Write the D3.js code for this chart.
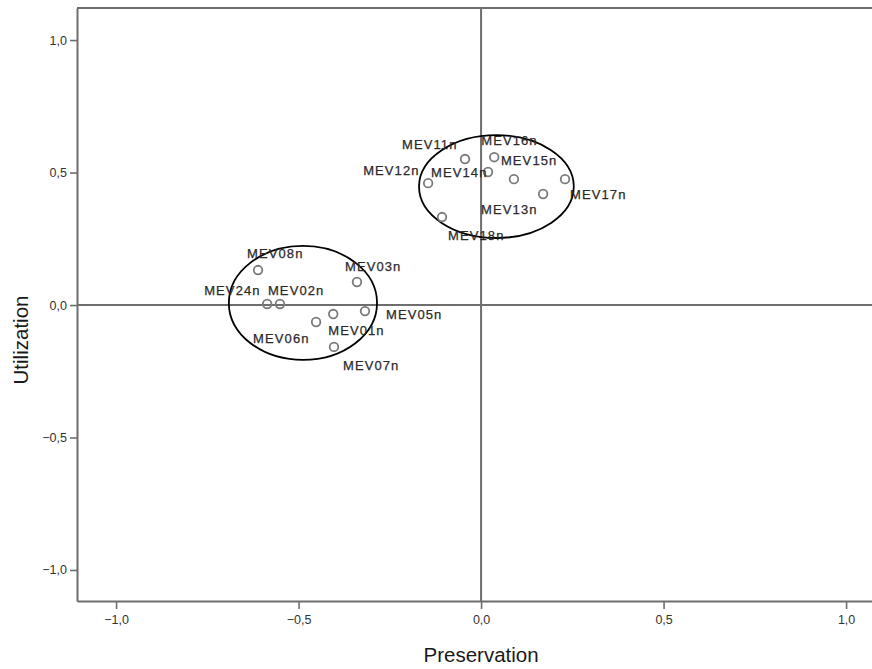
<!DOCTYPE html>
<html>
<head>
<meta charset="utf-8">
<script src="https://cdn.jsdelivr.net/npm/d3@7"></script>
<style>
  body { margin: 0; background: #fff; }
  svg { display: block; font-family: "Liberation Sans", Arial, sans-serif; }
</style>
</head>
<body>
<div id="chart"></div>
<script>
// variables (component loadings)
const names = ["MEV11n", "MEV16n", "MEV14n", "MEV15n", "MEV17n", "MEV13n", "MEV12n", "MEV18n",
               "MEV08n", "MEV03n", "MEV24n", "MEV02n", "MEV05n", "MEV01n", "MEV06n", "MEV07n"];
const preservation = [-0.044, 0.036, 0.019, 0.090, 0.230, 0.170, -0.145, -0.107,
                      -0.611, -0.340, -0.586, -0.551, -0.318, -0.405, -0.452, -0.403];
const utilization = [0.551, 0.558, 0.502, 0.475, 0.475, 0.419, 0.460, 0.332,
                     0.132, 0.087, 0.004, 0.004, -0.023, -0.034, -0.064, -0.158];
const tickValues = [-1.0, -0.5, 0.0, 0.5, 1.0];

// cluster ellipses: centre and radii in data units
const clusterCx = [0.042, -0.488];
const clusterCy = [0.447, 0.008];
const clusterRx = [0.212, 0.203];
const clusterRy = [0.194, 0.215];

// label placement relative to point (px): left edge, vertical centre
const labelOffset = {
  MEV11n: [-63, -15], MEV16n: [-13, -17], MEV15n: [-13, -19], MEV14n: [-57, 0],
  MEV12n: [-65, -13], MEV13n: [-62, 15], MEV17n: [5, 15], MEV18n: [6, 18],
  MEV08n: [-11, -17], MEV03n: [-12, -16], MEV24n: [-63, -14], MEV02n: [-12, -14],
  MEV05n: [21, 3], MEV01n: [-5, 16], MEV06n: [-63, 16], MEV07n: [9, 18]
};

const W = 872, H = 669;
const margin = { left: 77, right: 0, top: 8, bottom: 68 };
const axisColor = "#6e6e6e";

const svg = d3.select("#chart").append("svg")
  .attr("width", W).attr("height", H);

const x = d3.scaleLinear().domain([-1.107, 1.071]).range([margin.left, W - margin.right]);
const y = d3.scaleLinear().domain([-1.117, 1.121]).range([H - margin.bottom, margin.top]);

const fmt = v => d3.format(".1f")(v).replace(".", ",");

// top frame line
svg.append("line")
  .attr("x1", margin.left).attr("x2", W)
  .attr("y1", margin.top).attr("y2", margin.top)
  .attr("stroke", axisColor).attr("stroke-width", 2);

// reference lines at 0
svg.append("line")
  .attr("x1", x(0)).attr("x2", x(0))
  .attr("y1", margin.top).attr("y2", H - margin.bottom)
  .attr("stroke", axisColor).attr("stroke-width", 2);
svg.append("line")
  .attr("x1", margin.left).attr("x2", W)
  .attr("y1", y(0)).attr("y2", y(0))
  .attr("stroke", axisColor).attr("stroke-width", 2);

const xAxis = svg.append("g")
  .attr("transform", `translate(0,${H - margin.bottom})`)
  .call(d3.axisBottom(x).tickValues(tickValues).tickFormat(fmt).tickSize(8).tickSizeOuter(0).tickPadding(6));
const yAxis = svg.append("g")
  .attr("transform", `translate(${margin.left},0)`)
  .call(d3.axisLeft(y).tickValues(tickValues).tickFormat(fmt).tickSize(7).tickSizeOuter(0).tickPadding(3));

[xAxis, yAxis].forEach(ax => {
  ax.select(".domain").attr("stroke", axisColor).attr("stroke-width", 2);
  ax.selectAll(".tick line").attr("stroke", axisColor).attr("stroke-width", 1.6);
  ax.selectAll(".tick text")
    .attr("fill", "#333")
    .attr("font-size", 12.5)
    .attr("font-family", "Liberation Sans, Arial, sans-serif");
});

// ellipses around clusters
svg.selectAll("ellipse.cluster")
  .data(clusterCx)
  .join("ellipse")
  .attr("class", "cluster")
  .attr("cx", (d, i) => x(d))
  .attr("cy", (d, i) => y(clusterCy[i]))
  .attr("rx", (d, i) => x(clusterRx[i]) - x(0))
  .attr("ry", (d, i) => y(0) - y(clusterRy[i]))
  .attr("fill", "none")
  .attr("stroke", "#000")
  .attr("stroke-width", 1.8);

const pts = names.map((n, i) => ({ name: n, px: preservation[i], uy: utilization[i] }));

svg.selectAll("circle.pt")
  .data(pts)
  .join("circle")
  .attr("class", "pt")
  .attr("cx", d => x(d.px))
  .attr("cy", d => y(d.uy))
  .attr("r", 4.3)
  .attr("fill", "none")
  .attr("stroke", "#7a7a7a")
  .attr("stroke-width", 1.8);

svg.selectAll("text.lbl")
  .data(pts)
  .join("text")
  .attr("class", "lbl")
  .attr("x", d => x(d.px) + labelOffset[d.name][0])
  .attr("y", d => y(d.uy) + labelOffset[d.name][1])
  .attr("dy", "0.36em")
  .attr("font-size", 13)
  .attr("letter-spacing", 1.1)
  .attr("fill", "#2a2a2a")
  .attr("stroke", "#2a2a2a")
  .attr("stroke-width", 0.25)
  .text(d => d.name);

// axis titles
svg.append("text")
  .attr("x", x(0))
  .attr("y", 662)
  .attr("text-anchor", "middle")
  .attr("font-size", 20.5)
  .attr("fill", "#1a1a1a")
  .text("Preservation");

svg.append("text")
  .attr("transform", `translate(28,340) rotate(-90)`)
  .attr("text-anchor", "middle")
  .attr("font-size", 20.5)
  .attr("fill", "#1a1a1a")
  .text("Utilization");
</script>
</body>
</html>
